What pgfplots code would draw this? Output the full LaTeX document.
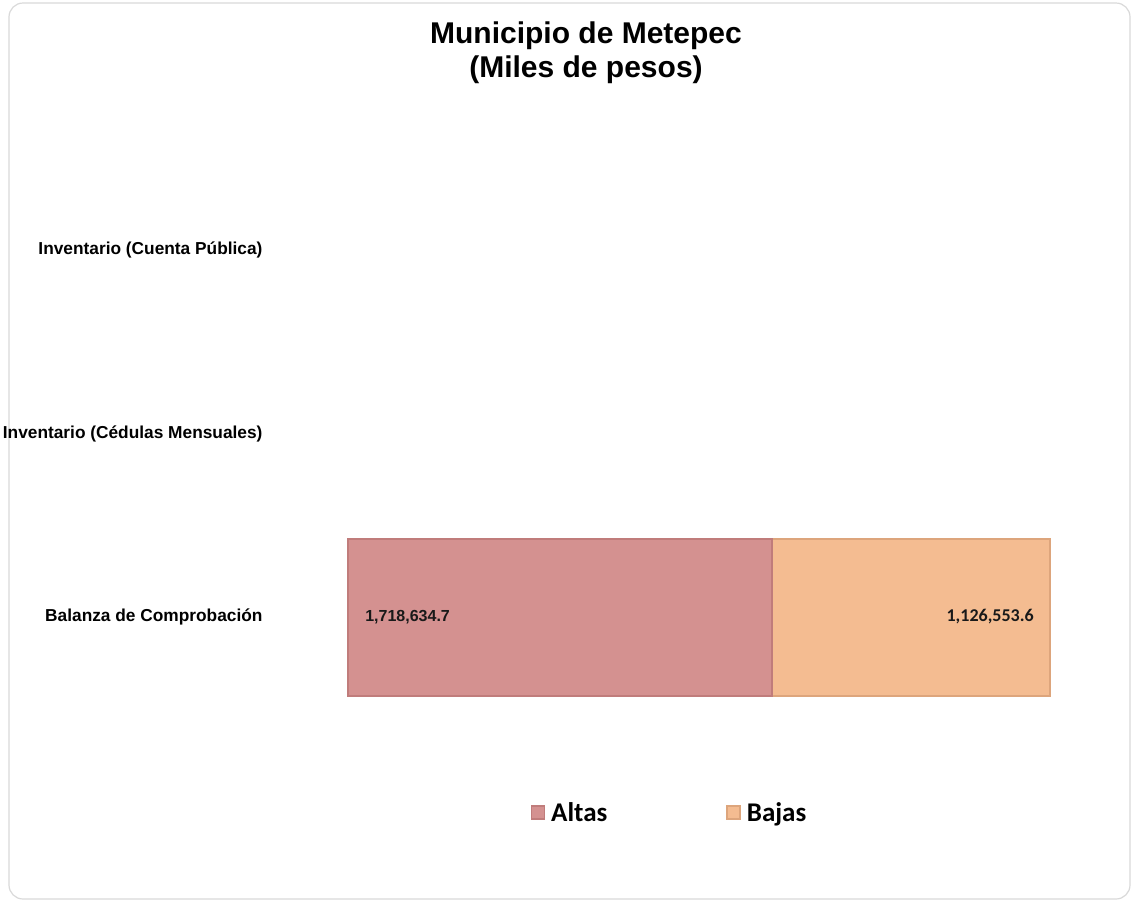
\documentclass[border=0pt]{standalone}
\usepackage{pgfplots}
\pgfplotsset{compat=1.18}
\usepackage{fontspec}
\setmainfont{Liberation Sans}
\newfontfamily\calibri{Carlito}
\definecolor{altas}{HTML}{D49190}
\definecolor{altasd}{HTML}{C07C7B}
\definecolor{bajas}{HTML}{F4BC91}
\definecolor{bajasd}{HTML}{DDA57C}
\begin{document}
\begin{tikzpicture}[x=1pt,y=1pt]
\useasboundingbox (0,0) rectangle (1133,-903);
\draw[black!15, line width=1.2pt, rounded corners=14pt] (9,-3) rectangle (1130,-899);
\node[align=center, font=\fontsize{30}{34}\selectfont\bfseries] at (586,-53) {Municipio de Metepec\\(Miles de pesos)};
\begin{axis}[
  at={(348pt,-708.75pt)}, anchor=south west,
  scale only axis, width=702pt, height=550.5pt,
  xbar stacked, bar width=157pt,
  xmin=0, xmax=2845188.3, ymin=-0.5, ymax=2.5,
  axis line style={draw=none}, tick style={draw=none},
  xtick=\empty, ytick={0,1,2},
  yticklabels={Balanza de Comprobación, Inventario (Cédulas Mensuales), Inventario (Cuenta Pública)},
  yticklabel style={font=\fontsize{17.3}{19}\selectfont\bfseries, xshift=-82pt},
  clip=false,
  point meta=explicit symbolic,
  nodes near coords,
  legend columns=2,
  legend style={at={(0.458,-0.189)}, anchor=center, draw=none, fill=none,
    font=\calibri\fontsize{27}{30}\selectfont\bfseries,
    /tikz/every odd column/.append style={column sep=4pt},
    /tikz/every even column/.append style={column sep=117pt}},
]
\addplot[fill=altas, draw=altasd, line width=2pt,
  every node near coord/.append style={anchor=west, xshift=-199pt, font=\normalfont\fontsize{16}{18}\selectfont\bfseries, text=black!90},
  legend image code/.code={\draw[fill=altas, draw=altasd, line width=1.5pt] (0pt,-6pt) rectangle (13pt,7pt);}]
  coordinates {(1718634.7,0) [1,718,634.7]};
\addplot[fill=bajas, draw=bajasd, line width=2pt,
  every node near coord/.append style={anchor=east, xshift=127pt, font=\calibri\fontsize{18}{20}\selectfont\bfseries, text=black!90},
  legend image code/.code={\draw[fill=bajas, draw=bajasd, line width=1.5pt] (0pt,-6pt) rectangle (13pt,7pt);}]
  coordinates {(1126553.6,0) [1,126,553.6]};
\legend{Altas, Bajas}
\end{axis}
\end{tikzpicture}
\end{document}
